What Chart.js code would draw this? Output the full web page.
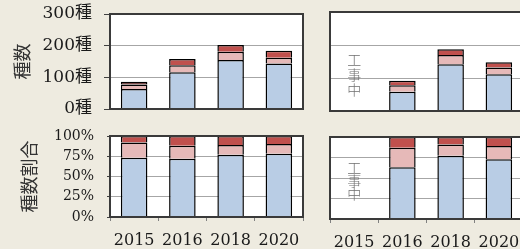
<!DOCTYPE html>
<html>
<head>
<meta charset="utf-8">
<script src="https://cdn.jsdelivr.net/npm/chart.js@4.4.0/dist/chart.umd.min.js"></script>
<style>
    html, body { margin: 0; padding: 0; width: 520px; height: 249px; overflow: hidden; background: #EEEBE0; }
    canvas { position: absolute; }
    #top-left { left: 0; top: 0; }
    #top-right { left: 320px; top: 0; }
    #bottom-left { left: 0; top: 120px; }
    #bottom-right { left: 320px; top: 120px; }
</style>
</head>
<body>
<canvas id="top-left" width="310" height="120"></canvas>
<canvas id="top-right" width="210" height="120"></canvas>
<canvas id="bottom-left" width="310" height="129"></canvas>
<canvas id="bottom-right" width="210" height="129"></canvas>
<script>
const years = ['2015', '2016', '2018', '2020'];
const countTicks = ['0種', '100種', '200種', '300種'];
const shareTicks = ['0%', '25%', '50%', '75%', '100%'];

// left panel, number of species
const leftBlue = [63, 116, 155, 144];
const leftPink = [14, 22, 26, 18];
const leftRed = [9, 20, 21, 22];

// right panel, number of species (2015 under construction)
const rightBlue = [null, 58, 142, 111];
const rightPink = [null, 20, 28, 21];
const rightRed = [null, 14, 17, 16];

// share of species, %
const leftBlueShare = [73, 72, 77, 78];
const leftPinkShare = [19, 16, 12, 12];
const leftRedShare = [8, 12, 11, 10];
const rightBlueShare = [null, 63, 77, 73];
const rightPinkShare = [null, 24, 14, 16];
const rightRedShare = [null, 13, 9, 11];

const BLUE = '#B9CDE5';
const PINK = '#E6B9B8';
const RED = '#C0504D';
const DARK_RED = '#632523';
const SERIF = "'DejaVu Serif', 'Noto Sans CJK JP', serif";

const panelFrame = {
    id: 'panelFrame',
    beforeDraw(chart) {
        const a = chart.chartArea;
        const ctx = chart.ctx;
        ctx.save();
        ctx.fillStyle = '#FFFFFF';
        ctx.fillRect(a.left, a.top, a.width, a.height);
        ctx.restore();
    },
    afterDraw(chart) {
        const a = chart.chartArea;
        const ctx = chart.ctx;
        ctx.save();
        ctx.strokeStyle = '#3A3A3A';
        ctx.lineWidth = 2;
        ctx.strokeRect(a.left, a.top, a.width, a.height);
        ctx.restore();
    }
};

const constructionNote = {
    id: 'constructionNote',
    afterDatasetsDraw(chart, args, opts) {
        if (!opts.text) return;
        const ctx = chart.ctx;
        const a = chart.chartArea;
        const x = chart.scales.x.getPixelForValue(0);
        const chars = Array.from(opts.text);
        const y0 = a.top + a.height * opts.pos - opts.step * (chars.length - 1) / 2;
        ctx.save();
        ctx.font = "300 14px 'Noto Sans CJK JP'";
        ctx.fillStyle = '#6F6F6F';
        ctx.textAlign = 'center';
        ctx.textBaseline = 'middle';
        chars.forEach((c, i) => ctx.fillText(c, x, y0 + i * opts.step));
        ctx.restore();
    }
};

function noPadding(s) {
    s.paddingTop = 0;
    s.paddingBottom = 0;
    s.paddingLeft = 0;
    s.paddingRight = 0;
}

function buildChart(id, cfg) {
    const ctx = document.getElementById(id).getContext('2d');
    const datasets = [
        { data: cfg.blue, backgroundColor: BLUE },
        { data: cfg.pink, backgroundColor: PINK },
        { data: cfg.red, backgroundColor: cfg.redColors || RED }
    ].map(ds => Object.assign(ds, {
        borderColor: '#000000',
        borderWidth: 1.5,
        barPercentage: 0.55,
        categoryPercentage: 1
    }));

    const yAxis = {
        stacked: true,
        min: 0,
        max: cfg.max,
        ticks: {
            display: cfg.showY,
            autoSkip: false,
            stepSize: cfg.step,
            font: { family: SERIF, size: cfg.tickSize },
            color: '#1A1A1A',
            padding: cfg.tickPad,
            callback: (v, i) => cfg.tickLabels[i]
        },
        grid: {
            color: '#A6A6A6',
            lineWidth: 1,
            drawTicks: cfg.showY,
            tickLength: cfg.tickLen,
            tickColor: '#404040'
        },
        border: { display: false },
        title: {
            display: !!cfg.title,
            text: cfg.title,
            font: { family: "'Noto Sans CJK JP'", size: 18 },
            color: '#333333',
            padding: { top: cfg.titlePad, bottom: 0 }
        },
        afterFit: s => { s.width = cfg.yWidth; noPadding(s); }
    };

    const xAxis = {
        stacked: true,
        ticks: {
            display: cfg.showX,
            autoSkip: false,
            maxRotation: 0,
            font: { family: SERIF, size: 16 },
            color: '#1A1A1A',
            padding: 10
        },
        grid: {
            display: cfg.showX,
            offset: true,
            drawOnChartArea: false,
            drawTicks: true,
            tickLength: 4,
            tickColor: '#808080'
        },
        border: { display: false },
        afterFit: s => { s.height = cfg.xHeight; noPadding(s); }
    };

    return new Chart(ctx, {
        type: 'bar',
        data: { labels: years, datasets: datasets },
        options: {
            responsive: false,
            animation: false,
            layout: { padding: { top: cfg.padTop, right: 7, left: 0, bottom: 0 } },
            plugins: {
                legend: { display: false },
                tooltip: { enabled: false },
                constructionNote: cfg.note || {}
            },
            scales: { x: xAxis, y: yAxis }
        },
        plugins: [panelFrame, constructionNote]
    });
}

document.addEventListener('DOMContentLoaded', function() {
    buildChart('top-left', {
        blue: leftBlue, pink: leftPink, red: leftRed,
        redColors: [DARK_RED, RED, RED, RED],
        max: 300, step: 100, tickLabels: countTicks, tickSize: 17,
        showY: true, tickLen: 6, tickPad: 12, yWidth: 110,
        title: '種数', titlePad: 11,
        showX: false, xHeight: 11, padTop: 14
    });
    buildChart('top-right', {
        blue: rightBlue, pink: rightPink, red: rightRed,
        max: 300, step: 100, tickLabels: countTicks, tickSize: 17,
        showY: false, tickLen: 0, tickPad: 0, yWidth: 10,
        title: '', titlePad: 0,
        showX: false, xHeight: 9, padTop: 12,
        note: { text: '工事中', pos: 0.63, step: 15 }
    });
    buildChart('bottom-left', {
        blue: leftBlueShare, pink: leftPinkShare, red: leftRedShare,
        max: 100, step: 25, tickLabels: shareTicks, tickSize: 14,
        showY: true, tickLen: 3, tickPad: 13, yWidth: 110,
        title: '種数割合', titlePad: 18,
        showX: true, xHeight: 32, padTop: 16
    });
    buildChart('bottom-right', {
        blue: rightBlueShare, pink: rightPinkShare, red: rightRedShare,
        max: 100, step: 25, tickLabels: shareTicks, tickSize: 14,
        showY: false, tickLen: 0, tickPad: 0, yWidth: 10,
        title: '', titlePad: 0,
        showX: true, xHeight: 30, padTop: 17,
        note: { text: '工事中', pos: 0.53, step: 13 }
    });
});
</script>
</body>
</html>
